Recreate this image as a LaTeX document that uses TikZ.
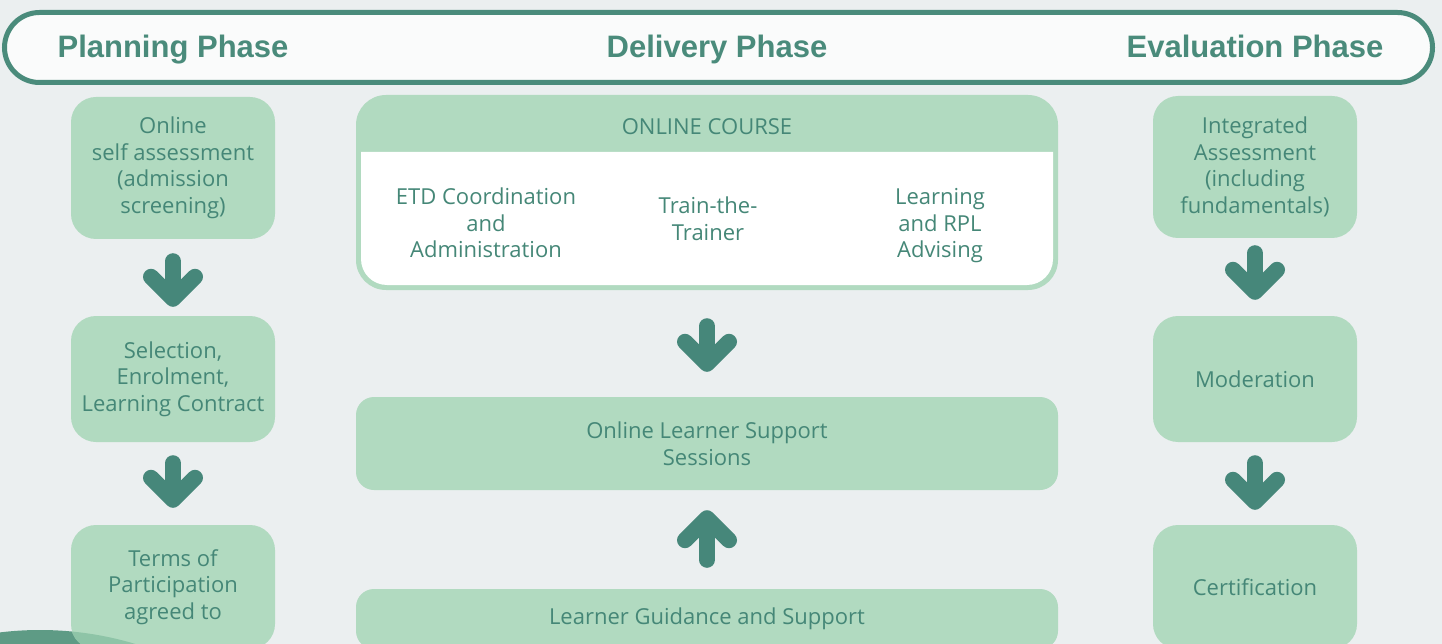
\documentclass[tikz,border=0pt]{standalone}
\usepackage{fontspec}
\setmainfont{Open Sans}
\newfontfamily\headfont{Liberation Sans}
\usetikzlibrary{arrows.meta}

\definecolor{bgGray}{HTML}{EBEFF0}
\definecolor{barWhite}{HTML}{FAFBFB}
\definecolor{phaseGreen}{HTML}{4A8B7B}
\definecolor{boxGreen}{HTML}{B1DAC0}
\definecolor{textGreen}{HTML}{458777}
\definecolor{arrowGreen}{HTML}{46877A}
\definecolor{blobGreen}{HTML}{5E9B85}
\definecolor{blobLight}{HTML}{8EC4A7}

\tikzset{
  stepbox/.style={fill=boxGreen,text=textGreen,rounded corners=25pt,align=center,inner sep=0pt,
    font=\fontsize{22}{26.5}\selectfont},
  plainlabel/.style={text=textGreen,align=center,inner sep=0pt,font=\fontsize{22}{26.5}\selectfont},
  phasetitle/.style={text=phaseGreen,inner sep=0pt,anchor=base,font=\headfont\bfseries\fontsize{31}{31}\selectfont},
  flowarrow/.style={draw=arrowGreen,line width=16pt,line cap=round,
    -{Straight Barb[round,length=22pt,width=44pt]}},
}

\begin{document}
\begin{tikzpicture}[x=1pt,y=-1pt]

        % -----------
        % Parameters.
        % -----------

        % Columns.
        \pgfmathsetmacro{\xLeft}{173}     % Centre of planning column.
        \pgfmathsetmacro{\xMid}{707}      % Centre of delivery column.
        \pgfmathsetmacro{\xRight}{1255}   % Centre of evaluation column.

        % Side boxes.
        \pgfmathsetmacro{\sideWidth}{204} % Width of side boxes.
        \pgfmathsetmacro{\midWidth}{702}  % Width of delivery boxes.

        % --------
        % Drawing.
        % --------

        % Background.
        \useasboundingbox (0,0) rectangle (1442,644);
        \fill[bgGray] (0,0) rectangle (1442,644);

        % Round blob at the bottom left.
        \fill[blobGreen] (40,960) circle (330);

        % Phase bar.
        \draw[phaseGreen,line width=5pt,fill=barWhite,rounded corners=35pt] (4.5,12.5) rectangle (1432.5,82.5);
        \node[phasetitle] (planTitle) at (\xLeft,58) {Planning Phase};
        \node[phasetitle] (deliveryTitle) at (717,58) {Delivery Phase};
        \node[phasetitle] (evalTitle) at (\xRight,58) {Evaluation Phase};

        % Planning phase.
        \node[stepbox,minimum width=\sideWidth,minimum height=142] (selfAssess) at (\xLeft,168)
            {Online\\self assessment\\(admission\\screening)};
        \node[stepbox,minimum width=\sideWidth,minimum height=126] (selection) at (\xLeft,379)
            {Selection,\\Enrolment,\\Learning Contract};
        \node[stepbox,minimum width=\sideWidth,minimum height=124] (terms) at (\xLeft,587)
            {Terms of\\Participation\\agreed to};

        % Blob seen through the last planning box.
        \begin{scope}
            \clip[rounded corners=25pt] (terms.south west) rectangle (terms.north east);
            \fill[blobLight] (40,960) circle (330);
        \end{scope}

        % Online course.
        \node[fill=boxGreen,rounded corners=30pt,minimum width=\midWidth,minimum height=195,inner sep=0pt] (course) at (\xMid,192.5) {};
        \fill[white] (361,152) -- (1053,152) -- (1053,200) [rounded corners=26pt] -- (1053,285) -- (361,285) [sharp corners] -- (361,200) -- cycle;
        \node[plainlabel] (courseTitle) at (\xMid,127) {ONLINE COURSE};
        \node[plainlabel] (etd) at (486,223) {ETD Coordination\\and\\Administration};
        \node[plainlabel] (trainer) at (708,219) {Train-the-\\Trainer};
        \node[plainlabel] (advising) at (940,226) {Learning\\and RPL\\Advising};

        % Delivery support.
        \node[stepbox,rounded corners=18pt,minimum width=\midWidth,minimum height=93] (sessions) at (\xMid,443.5)
            {Online Learner Support\\Sessions};
        \node[stepbox,rounded corners=18pt,minimum width=\midWidth,minimum height=60] (guidance) at (\xMid,619)
            {Learner Guidance and Support};

        % Evaluation phase.
        \node[stepbox,minimum width=\sideWidth,minimum height=142] (integrated) at (\xRight,167)
            {Integrated\\Assessment\\(including\\fundamentals)};
        \node[stepbox,minimum width=\sideWidth,minimum height=126] (moderation) at (\xRight,379) {Moderation};
        \node[stepbox,minimum width=\sideWidth,minimum height=124] (certification) at (\xRight,587) {Certification};

        % Arrows.
        \draw[flowarrow,shorten <=22pt,shorten >=9pt] (selfAssess) -- (selection);
        \draw[flowarrow,shorten <=21pt,shorten >=17pt] (selection) -- (terms);
        \draw[flowarrow,shorten <=36pt,shorten >=25pt] (course) -- (sessions);
        \draw[flowarrow,shorten <=29pt,shorten >=20pt] (guidance) -- (sessions);
        \draw[flowarrow,shorten <=15pt,shorten >=16pt] (integrated) -- (moderation);
        \draw[flowarrow,shorten <=21pt,shorten >=15pt] (moderation) -- (certification);

    \end{tikzpicture}
\end{document}
